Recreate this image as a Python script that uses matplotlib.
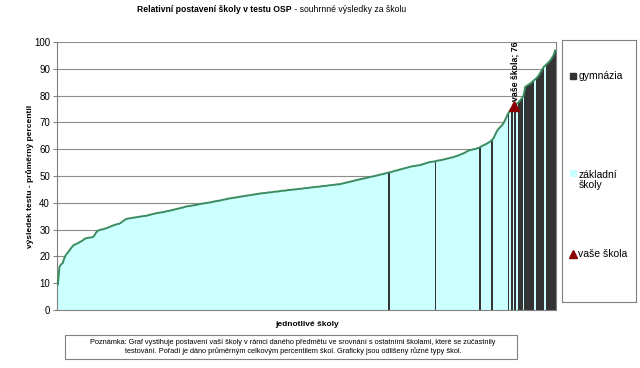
import matplotlib
matplotlib.use("Agg")
import matplotlib.pyplot as plt
from matplotlib.patches import Rectangle
import numpy as np

plt.rcParams['font.family'] = ['Liberation Sans', 'DejaVu Sans']

# prumerny percentil skol, serazeno vzestupne
values = [
    9.5, 16.2, 17.0, 17.6, 19.5, 20.7, 21.4, 22.3, 23.1, 23.9,
    24.4, 24.6, 24.9, 25.3, 25.6, 26.0, 26.5, 26.8, 26.9, 27.0,
    27.1, 27.2, 27.8, 28.9, 29.6, 29.8, 30.0, 30.1, 30.3, 30.5,
    30.7, 31.0, 31.2, 31.5, 31.7, 31.9, 32.1, 32.2, 32.6, 33.1,
    33.5, 33.9, 34.1, 34.2, 34.3, 34.4, 34.5, 34.6, 34.7, 34.8,
    34.9, 35.0, 35.1, 35.1, 35.3, 35.5, 35.6, 35.8, 35.9, 36.1,
    36.2, 36.3, 36.4, 36.5, 36.6, 36.8, 36.9, 37.0, 37.2, 37.3,
    37.5, 37.6, 37.8, 37.9, 38.1, 38.2, 38.4, 38.6, 38.7, 38.8,
    38.9, 39.0, 39.1, 39.2, 39.3, 39.5, 39.6, 39.7, 39.8, 39.9,
    40.0, 40.1, 40.2, 40.3, 40.5, 40.6, 40.7, 40.8, 40.9, 41.1,
    41.2, 41.3, 41.5, 41.6, 41.7, 41.8, 41.9, 42.0, 42.1, 42.2,
    42.3, 42.4, 42.5, 42.6, 42.7, 42.8, 42.9, 43.0, 43.1, 43.2,
    43.3, 43.4, 43.5, 43.6, 43.6, 43.7, 43.8, 43.9, 43.9, 44.0,
    44.1, 44.2, 44.2, 44.3, 44.4, 44.5, 44.5, 44.6, 44.7, 44.8,
    44.8, 44.9, 45.0, 45.0, 45.1, 45.2, 45.2, 45.3, 45.4, 45.5,
    45.5, 45.6, 45.7, 45.8, 45.8, 45.9, 46.0, 46.0, 46.1, 46.2,
    46.3, 46.3, 46.4, 46.5, 46.6, 46.6, 46.7, 46.8, 46.9, 46.9,
    47.0, 47.2, 47.3, 47.5, 47.6, 47.8, 47.9, 48.1, 48.2, 48.4,
    48.5, 48.7, 48.8, 49.0, 49.1, 49.2, 49.4, 49.5, 49.7, 49.8,
    49.9, 50.1, 50.2, 50.4, 50.5, 50.7, 50.8, 51.0, 51.1, 51.3,
    51.4, 51.6, 51.8, 52.0, 52.1, 52.3, 52.5, 52.6, 52.8, 53.0,
    53.1, 53.3, 53.5, 53.6, 53.7, 53.8, 53.9, 54.0, 54.1, 54.3,
    54.5, 54.7, 54.9, 55.1, 55.2, 55.3, 55.4, 55.5, 55.7, 55.8,
    55.9, 56.0, 56.2, 56.3, 56.5, 56.6, 56.8, 56.9, 57.1, 57.3,
    57.5, 57.7, 58.0, 58.2, 58.5, 58.8, 59.2, 59.5, 59.7, 59.8,
    60.0, 60.1, 60.3, 60.5, 60.8, 61.2, 61.5, 61.8, 62.1, 62.5,
    62.9, 63.4, 64.2, 65.5, 66.8, 67.6, 68.3, 68.9, 69.8, 71.0,
    72.4, 73.6, 74.6, 75.3, 76.0, 76.6, 77.0, 77.5, 78.2, 79.0,
    80.0, 83.2, 83.7, 84.1, 84.5, 85.0, 85.6, 86.1, 86.7, 87.4,
    88.5, 89.5, 90.6, 91.2, 91.8, 92.4, 93.1, 94.0, 95.0, 96.8,
]
# poradi skol, ktere jsou gymnazia
gym_idx = [199, 227, 254, 261, 271, 273, 275, 277, 278, 279,
           281, 282, 283, 284, 285, 286, 288, 289, 290, 291, 292,
           294, 295, 296, 297, 298, 299]
my_idx = 274
my_value = 76

x = np.arange(len(values))
colors = ['#333333' if i in gym_idx else '#ccffff' for i in x]

fig = plt.figure(figsize=(6.4, 3.68), dpi=100)
ax = fig.add_axes([57/640, 1-310/368, 499/640, 268/368])

ax.bar(x, values, width=1.0, color=colors, linewidth=0, zorder=2)
ax.plot(x, values, color='#3b8c60', lw=1.4, zorder=3)
ax.plot(my_idx, my_value, marker='^', color='#8b0000', ms=7, ls='none', zorder=4)
ax.text(my_idx + 1, my_value + 2.0, 'vaše škola; 76', rotation=90, fontsize=6.3,
        fontweight='bold', ha='center', va='bottom', zorder=5)

ax.set_xlim(-0.5, len(values) - 0.5)
ax.set_ylim(0, 100)
ax.set_yticks(range(0, 101, 10))
ax.set_xticks([])
ax.tick_params(axis='y', labelsize=7, length=3, color='#808080', pad=2)
ax.yaxis.grid(True, color='#8c8c8c', lw=0.8, zorder=0)
for s in ax.spines.values():
    s.set_color('#808080')
    s.set_linewidth(0.8)
ax.spines['top'].set_visible(False)
ax.set_ylabel('výsledek testu - průměrný percentil', fontsize=6, fontweight='bold', labelpad=0)
ax.set_xlabel('jednotlivé školy', fontsize=6, fontweight='bold', labelpad=8)

# title: bold part + normal part right after it
t1 = fig.text(137/640, 1-9/368, 'Relativní postavení školy v testu OSP', fontsize=6.2,
              fontweight='bold', ha='left', va='center')
fig.canvas.draw()
bb = t1.get_window_extent()
fig.text(bb.x1/640, 1-9/368, ' - souhrnné výsledky za školu', fontsize=6.2,
         ha='left', va='center')

# legend box
lg = fig.add_axes([562/640, 1-302/368, 74/640, 262/368])
lg.set_xlim(0, 74)
lg.set_ylim(262, 0)
lg.set_xticks([])
lg.set_yticks([])
for s in lg.spines.values():
    s.set_color('#808080')
    s.set_linewidth(0.8)
lg.add_patch(Rectangle((8, 33), 6, 6, color='#333333'))
lg.text(16.5, 36, 'gymnázia', fontsize=7.5, va='center')
lg.add_patch(Rectangle((8, 130), 6, 6, color='#ccffff'))
lg.text(16.5, 140, 'základní\nškoly', fontsize=7.5, va='center', linespacing=1.1)
lg.plot(11, 214, marker='^', color='#8b0000', ms=6)
lg.text(16.5, 214, 'vaše škola', fontsize=7.5, va='center')

# note box
fig.patches.append(Rectangle((65/640, 1-359/368), 452/640, 24/368, transform=fig.transFigure,
                             fill=False, edgecolor='#808080', lw=0.8))
fig.text(293/640, 1-347/368,
         'Poznámka: Graf vystihuje postavení vaší školy v rámci daného předmětu ve srovnání s ostatními školami, které se zúčastnily\n'
         'testování. Pořadí je dáno průměrným celkovým percentilem škol. Graficky jsou odlišeny různé typy škol.',
         fontsize=5.3, ha='center', va='center', linespacing=1.3)

fig.savefig('out.png', dpi=100)
